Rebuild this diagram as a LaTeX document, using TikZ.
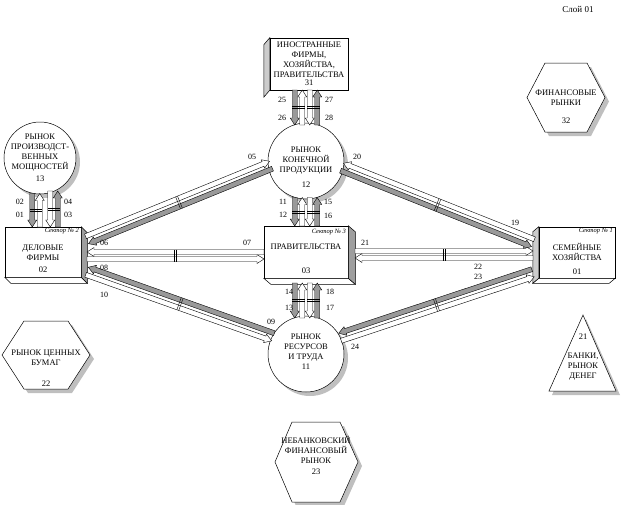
\documentclass[tikz,border=0pt]{standalone}
\usepackage{fontspec}
\setmainfont{Liberation Serif}
\usetikzlibrary{calc}
\definecolor{arrgrey}{gray}{0.6}
\definecolor{sidegrey}{gray}{0.62}
\definecolor{lightside}{gray}{0.8}
\definecolor{shadgrey}{gray}{0.75}

% #1 fill, #2 from, #3 to, #4 offset, #5 side angle
\newcommand{\flowarr}[5]{%
  \coordinate (fS) at ($(#2)!#4!#5:(#3)$);
  \coordinate (fE) at ($(#3)+(fS)-(#2)$);
  \coordinate (fH) at ($(fE)!7pt!(fS)$);
  \filldraw[fill=#1,draw=black,line width=0.4pt,line join=miter]
    ($(fS)!2.5pt!90:(fE)$) -- ($(fH)!2.5pt!-90:(fS)$) -- ($(fH)!4.5pt!-90:(fS)$) --
    (fE) -- ($(fH)!4.5pt!90:(fS)$) -- ($(fH)!2.5pt!90:(fS)$) -- ($(fS)!2.5pt!-90:(fE)$) -- cycle;
}
% #1 A, #2 B, #3 half span
\newcommand{\tiemark}[3]{%
  \coordinate (tM) at ($(#1)!0.5!(#2)$);
  \coordinate (tMa) at ($(tM)!1pt!(#2)$);
  \coordinate (tMb) at ($(tM)!1pt!(#1)$);
  \draw[line width=0.4pt] ($(tMa)!#3!90:(#2)$) -- ($(tMa)!#3!-90:(#2)$);
  \draw[line width=0.4pt] ($(tMb)!#3!90:(#1)$) -- ($(tMb)!#3!-90:(#1)$);
}
% #1 A, #2 B, #3 fill A->B, #4 fill B->A, #5 offset, #6 side angle, #7 tie half span
\newcommand{\flowpair}[7]{%
  \flowarr{#3}{#1}{#2}{#5}{#6}
  \flowarr{#4}{#2}{#1}{#5}{#6}
  \tiemark{#1}{#2}{#7}
}

\begin{document}
\begin{tikzpicture}[x=1pt,y=-1pt,
  txt/.style={inner sep=0,align=center,font=\fontsize{8.5}{10}\selectfont},
  lbl/.style={inner sep=0,font=\fontsize{8}{9}\selectfont},
  sect/.style={inner sep=0,font=\fontsize{6.5}{7}\selectfont\itshape},
  boxnode/.style={draw,fill=white,inner sep=0,line width=0.5pt},
  circnode/.style={circle,draw,fill=white,inner sep=0,line width=0.5pt}]
\useasboundingbox (0,0) rectangle (624,504);

% ---------- title
\node[inner sep=0,font=\fontsize{9}{10}\selectfont] (title) at (578,9) {Слой 01};

% ---------- circles with shadows
\fill[shadgrey] (310,165) circle (38);
\node[circnode,minimum size=76pt] (c12) at (306,161) {};
\fill[shadgrey] (310,358) circle (38);
\node[circnode,minimum size=76pt] (c11) at (306,354) {};
\fill[shadgrey] (44,162) circle (36);
\node[circnode,minimum size=72pt] (c13) at (40,158) {};

% ---------- boxes with 3D sides
\node[boxnode,minimum width=78pt,minimum height=52pt] (b31) at (309,64) {};
\filldraw[fill=lightside,line width=0.5pt] (b31.north west) -- ++(-6,7) -- ($(b31.south west)+(-6,7)$) -- (b31.south west) -- cycle;

\node[boxnode,minimum width=76pt,minimum height=50pt] (b02) at (43,252) {};
\filldraw[fill=white,line width=0.5pt] (b02.south west) -- ++(6,6) -- ($(b02.south east)+(6,6)$) -- (b02.south east) -- cycle;
\filldraw[fill=sidegrey,line width=0.5pt] (b02.north east) -- ++(6,6) -- ($(b02.south east)+(6,6)$) -- (b02.south east) -- cycle;

\node[boxnode,minimum width=84pt,minimum height=52pt] (b03) at (306,252) {};
\filldraw[fill=white,line width=0.5pt] (b03.south west) -- ++(7,6) -- ($(b03.south east)+(7,6)$) -- (b03.south east) -- cycle;
\filldraw[fill=sidegrey,line width=0.5pt] (b03.north east) -- ++(7,6) -- ($(b03.south east)+(7,6)$) -- (b03.south east) -- cycle;

\node[boxnode,minimum width=76pt,minimum height=51pt] (b01) at (577,252.5) {};
\filldraw[fill=white,line width=0.5pt] (b01.south east) -- ++(-6,5) -- ($(b01.south west)+(-6,5)$) -- (b01.south west) -- cycle;
\filldraw[fill=lightside,line width=0.5pt] (b01.north west) -- ++(-6,5) -- ($(b01.south west)+(-6,5)$) -- (b01.south west) -- cycle;

% ---------- hexagons and triangle with shadows
\fill[shadgrey] (549,67) -- (591,67) -- (609,101.5) -- (591,136) -- (549,136) -- (531,101.5) -- cycle;
\filldraw[fill=white,line width=0.5pt] (545,63) -- (587,63) -- (605,97.5) -- (587,132) -- (545,132) -- (527,97.5) -- cycle;
\fill[shadgrey] (28,325) -- (72,325) -- (94,359) -- (72,393) -- (28,393) -- (6,359) -- cycle;
\filldraw[fill=white,line width=0.5pt] (24,321) -- (68,321) -- (90,355) -- (68,389) -- (24,389) -- (2,355) -- cycle;
\fill[shadgrey] (296,426) -- (344,426) -- (362,466) -- (344,506) -- (296,506) -- (279,466) -- cycle;
\filldraw[fill=white,line width=0.5pt] (292,422) -- (340,422) -- (358,462) -- (340,502) -- (292,502) -- (275,462) -- cycle;
\fill[shadgrey] (586,319) -- (620,395) -- (552,395) -- cycle;
\filldraw[fill=white,line width=0.5pt] (583,315) -- (616,391) -- (549,391) -- cycle;

% ---------- connector end points
\coordinate (g1La) at (298.5,90);  \coordinate (g1Lb) at (298.5,125);
\coordinate (g1Ra) at (313.5,90);  \coordinate (g1Rb) at (313.5,125);
\coordinate (g2La) at (298.5,197.5); \coordinate (g2Lb) at (298.5,226);
\coordinate (g2Ra) at (313.5,197.5); \coordinate (g2Rb) at (313.5,226);
\coordinate (g3La) at (298.5,283); \coordinate (g3Lb) at (298.5,318);
\coordinate (g3Ra) at (313.5,283); \coordinate (g3Rb) at (313.5,318);
\coordinate (g4La) at (36,193.5);  \coordinate (g4Lb) at (36,227);
\coordinate (g4Ra) at (54,191);    \coordinate (g4Rb) at (54,227);

\coordinate (p1a) at (87,240);    \coordinate (p1b) at (271,165);
\coordinate (p2a) at (87,255.5);  \coordinate (p2b) at (264,255.5);
\coordinate (p3a) at (87,271);    \coordinate (p3b) at (273,337);
\coordinate (p4a) at (355,254.5); \coordinate (p4b) at (533,254.5);
\coordinate (p5a) at (533,243);   \coordinate (p5b) at (342,167);
\coordinate (p6a) at (533,273);   \coordinate (p6b) at (340,337);

% ---------- vertical flows
\flowpair{g1La}{g1Lb}{arrgrey}{white}{3.75pt}{-90}{6.2pt}
\flowpair{g1Ra}{g1Rb}{white}{arrgrey}{3.75pt}{-90}{6.2pt}
\flowpair{g2La}{g2Lb}{arrgrey}{white}{3.75pt}{-90}{6.2pt}
\flowpair{g2Ra}{g2Rb}{white}{arrgrey}{3.75pt}{-90}{6.2pt}
\flowpair{g3La}{g3Lb}{arrgrey}{white}{3.75pt}{-90}{6.2pt}
\flowpair{g3Ra}{g3Rb}{white}{arrgrey}{3.75pt}{-90}{6.2pt}
\flowpair{g4La}{g4Lb}{arrgrey}{white}{3.75pt}{-90}{6.2pt}
\flowpair{g4Ra}{g4Rb}{white}{arrgrey}{3.75pt}{-90}{6.2pt}

% ---------- diagonal / horizontal flows
\flowpair{p1a}{p1b}{white}{arrgrey}{4pt}{90}{6.5pt}
\flowpair{p2a}{p2b}{white}{white}{3.5pt}{-90}{6pt}
\flowpair{p3a}{p3b}{white}{arrgrey}{4pt}{-90}{6.5pt}
\flowpair{p4a}{p4b}{white}{white}{3.5pt}{90}{6pt}
\flowpair{p5a}{p5b}{white}{arrgrey}{4pt}{-90}{6.5pt}
\flowpair{p6a}{p6b}{arrgrey}{white}{4pt}{-90}{6.5pt}

% ---------- texts
\node[txt] (t31) at (309,60) {ИНОСТРАННЫЕ\\ФИРМЫ,\\ХОЗЯЙСТВА,\\ПРАВИТЕЛЬСТВА};
\node[txt] (n31) at (309,83) {31};
\node[txt] (t12) at (306,161) {РЫНОК\\КОНЕЧНОЙ\\ПРОДУКЦИИ};
\node[txt] (n12) at (306,185) {12};
\node[txt] (t13) at (40,153) {РЫНОК\\ПРОИЗВОДСТ-\\ВЕННЫХ\\МОЩНОСТЕЙ};
\node[txt] (n13) at (40,179) {13};
\node[sect,anchor=east] (s2) at (79,231) {Сектор № 2};
\node[txt] (t02) at (43,253) {ДЕЛОВЫЕ\\ФИРМЫ};
\node[txt] (n02) at (43,270) {02};
\node[sect,anchor=east] (s3) at (346,232) {Сектор № 3};
\node[txt] (t03) at (306,247) {ПРАВИТЕЛЬСТВА};
\node[txt] (n03) at (306,271) {03};
\node[sect,anchor=east] (s1) at (613,231) {Сектор № 1};
\node[txt] (t01) at (577,252) {СЕМЕЙНЫЕ\\ХОЗЯЙСТВА};
\node[txt] (n01) at (577,272) {01};
\node[txt] (t11) at (306,348) {РЫНОК\\РЕСУРСОВ\\И ТРУДА};
\node[txt] (n11) at (306,367) {11};
\node[txt] (t32) at (566,98) {ФИНАНСОВЫЕ\\РЫНКИ};
\node[txt] (n32) at (566,121) {32};
\node[txt] (t22) at (46,357.5) {РЫНОК ЦЕННЫХ\\БУМАГ};
\node[txt] (n22) at (46,384) {22};
\node[txt] (t23) at (316,449.5) {НЕБАНКОВСКИЙ\\ФИНАНСОВЫЙ\\РЫНОК};
\node[txt] (n23) at (316,472) {23};
\node[txt] (n21) at (583,337) {21};
\node[txt] (t21) at (583,367) {БАНКИ,\\РЫНОК\\ДЕНЕГ};

% ---------- flow labels
\node[lbl] (l25) at (282,100) {25};
\node[lbl] (l26) at (282,118) {26};
\node[lbl] (l27) at (329,100) {27};
\node[lbl] (l28) at (329,118) {28};
\node[lbl] (l11) at (283,202) {11};
\node[lbl] (l12) at (283,215) {12};
\node[lbl] (l15) at (328,202) {15};
\node[lbl] (l16) at (328,216) {16};
\node[lbl] (l14) at (289,292) {14};
\node[lbl] (l13) at (289,308) {13};
\node[lbl] (l18) at (330,292) {18};
\node[lbl] (l17) at (330,308) {17};
\node[lbl] (l02) at (20,202) {02};
\node[lbl] (l01) at (20,215) {01};
\node[lbl] (l04) at (68,202) {04};
\node[lbl] (l03) at (68,215) {03};
\node[lbl] (l05) at (252,157) {05};
\node[lbl] (l06) at (104,243) {06};
\node[lbl] (l07) at (247,243) {07};
\node[lbl] (l08) at (104,268) {08};
\node[lbl] (l10) at (104,295) {10};
\node[lbl] (l09) at (271,322) {09};
\node[lbl] (l20) at (357,157) {20};
\node[lbl] (l19) at (515,223) {19};
\node[lbl] (l21) at (365,243) {21};
\node[lbl] (l22) at (478,267) {22};
\node[lbl] (l23) at (478,277) {23};
\node[lbl] (l24) at (355,347) {24};
\end{tikzpicture}
\end{document}
